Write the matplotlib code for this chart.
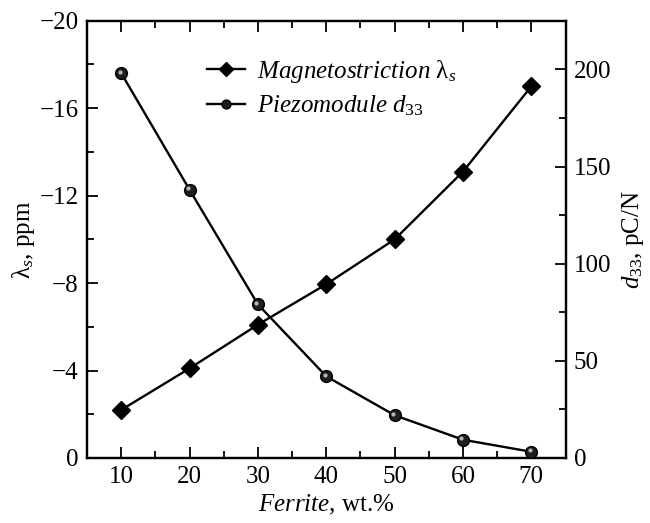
import matplotlib
matplotlib.use("Agg")
import matplotlib.pyplot as plt
from matplotlib.ticker import MultipleLocator
import matplotlib.transforms as mtransforms

plt.rcParams['font.family'] = ['Liberation Serif', 'DejaVu Serif']
plt.rcParams['mathtext.fontset'] = 'custom'
plt.rcParams['mathtext.rm'] = 'Liberation Serif'
plt.rcParams['mathtext.it'] = 'Liberation Serif:italic'
plt.rcParams['font.size'] = 18

ferrite = [10, 20, 30, 40, 50, 60, 70]
magnetostriction = [-2.2, -4.1, -6.1, -7.95, -10.0, -13.1, -17.0]
piezomodule = [198, 138, 79, 42, 22, 9.4, 3.2]

fig = plt.figure(figsize=(6.5, 5.23), dpi=100)
ax = fig.add_axes([0.134, 0.1243, 0.736, 0.836])
ax2 = ax.twinx()

l1, = ax.plot(ferrite, magnetostriction, color='black', lw=1.7, marker='D',
              ms=9, mfc='black', mec='black', zorder=3,
              label=r'$\mathit{Magnetostriction}$ λ$_{\mathit{s}}$')
l2, = ax2.plot(ferrite, piezomodule, color='black', lw=1.7, marker='o',
               ms=8.5, mfc='#1e1e1e', mec='black', mew=1.0, zorder=3,
               label=r'$\mathit{Piezomodule}\ d_{33}$')
# highlight on spheres
off = mtransforms.offset_copy(ax2.transData, fig=fig, x=-1.2, y=1.2, units='points')
ax2.plot(ferrite, piezomodule, ls='none', marker='o', ms=3.0, mfc='#b5b5b5',
         mec='none', transform=off, zorder=4)

ax.set_xlim(5, 75)
ax.set_ylim(0, -20)
ax2.set_ylim(0, 225)

ax.xaxis.set_major_locator(MultipleLocator(10))
ax.xaxis.set_minor_locator(MultipleLocator(5))
ax.yaxis.set_major_locator(MultipleLocator(4))
ax.yaxis.set_minor_locator(MultipleLocator(2))
ax2.yaxis.set_major_locator(MultipleLocator(50))
ax2.yaxis.set_minor_locator(MultipleLocator(25))

for a in (ax, ax2):
    a.tick_params(which='major', direction='in', length=8, width=1.3, labelsize=18, pad=6)
    a.tick_params(which='minor', direction='in', length=5, width=1.3)
    for s in a.spines.values():
        s.set_linewidth(1.6)
ax.tick_params(which='both', top=True, right=False)
ax2.tick_params(which='both', left=False, right=True)

ax.set_xlabel(r'$\mathit{Ferrite}$, wt.%', fontsize=18, labelpad=3)
ax.set_ylabel(r'λ$_{\mathit{s}}$, ppm', fontsize=18, labelpad=2)
ax2.set_ylabel(r'$d_{33}$, pC/N', fontsize=18, labelpad=6)

ax.legend([l1, l2], [l1.get_label(), l2.get_label()], loc='upper left',
          bbox_to_anchor=(0.215, 0.955), frameon=False, fontsize=18,
          handlelength=1.5, handletextpad=0.5, labelspacing=0.35, borderpad=0.2,
          markerscale=0.75)

fig.savefig('out.png', dpi=100)
